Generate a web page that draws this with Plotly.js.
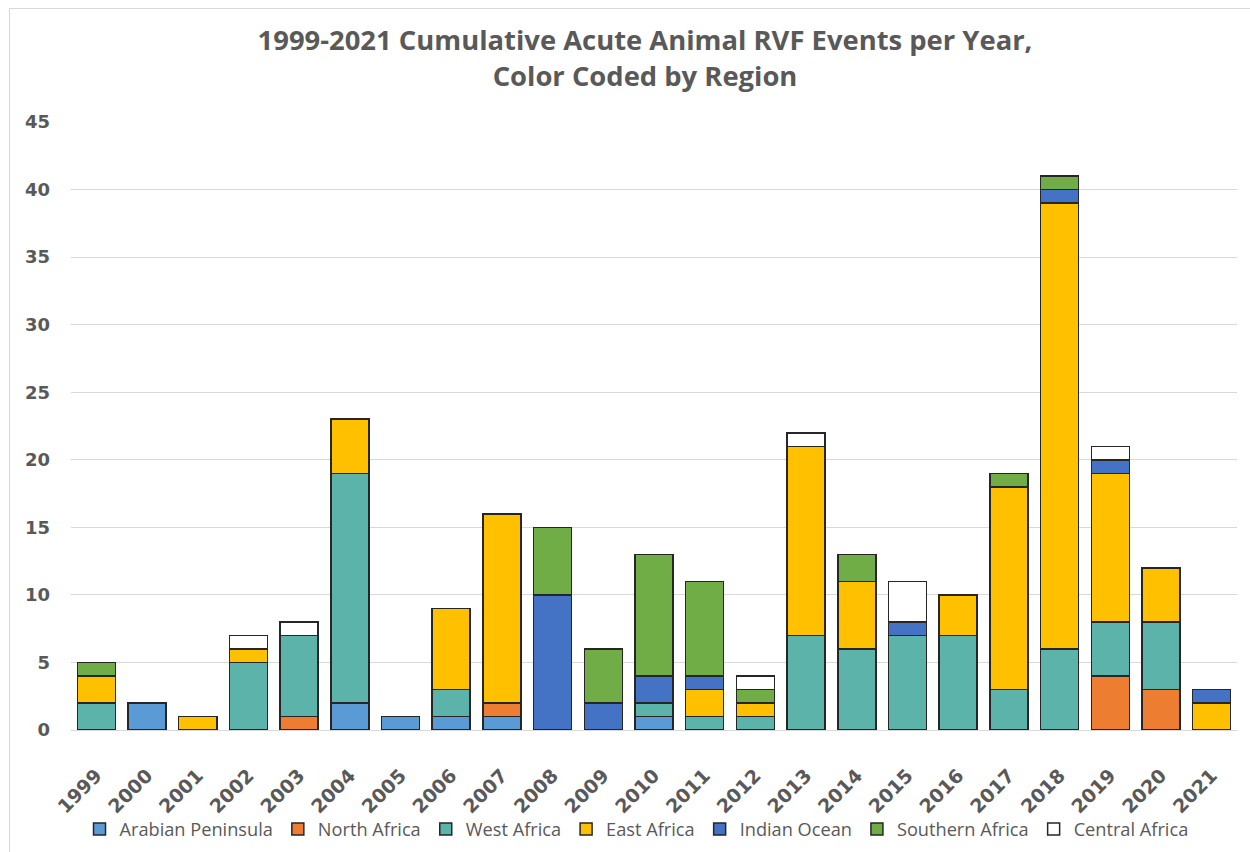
<!DOCTYPE html>
<html>
<head>
<meta charset="utf-8">
<script src="https://cdn.plot.ly/plotly-3.0.1.min.js"></script>
<style>
  html, body { margin: 0; padding: 0; background: #fff; }
  #wrap { position: relative; width: 1250px; height: 852px; overflow: hidden; }
  #frame { position: absolute; left: 9px; top: 8px; width: 1300px; height: 900px;
           border-top: 1px solid #d9d9d9; border-left: 1px solid #d9d9d9; pointer-events: none; }
  #chart { position: absolute; left: 0; top: 0; width: 1250px; height: 852px; }
</style>
</head>
<body>
<div id="wrap">
  <div id="chart"></div>
  <div id="frame"></div>
</div>
<script>
const years = ['1999','2000','2001','2002','2003','2004','2005','2006','2007','2008','2009','2010',
               '2011','2012','2013','2014','2015','2016','2017','2018','2019','2020','2021'];

const arabianPeninsula = [0,2,0,0,0,2,1,1,1,0,0,1,0,0,0,0,0,0,0,0,0,0,0];
const northAfrica      = [0,0,0,0,1,0,0,0,1,0,0,0,0,0,0,0,0,0,0,0,4,3,0];
const westAfrica       = [2,0,0,5,6,17,0,2,0,0,0,1,1,1,7,6,7,7,3,6,4,5,0];
const eastAfrica       = [2,0,1,1,0,4,0,6,14,0,0,0,2,1,14,5,0,3,15,33,11,4,2];
const indianOcean      = [0,0,0,0,0,0,0,0,0,10,2,2,1,0,0,0,1,0,0,1,1,0,1];
const southernAfrica   = [1,0,0,0,0,0,0,0,0,5,4,9,7,1,0,2,0,0,1,1,0,0,0];
const centralAfrica    = [0,0,0,1,1,0,0,0,0,0,0,0,0,1,1,0,3,0,0,0,1,0,0];

const seriesNames = ['Arabian Peninsula','North Africa','West Africa','East Africa',
                     'Indian Ocean','Southern Africa','Central Africa'];
const seriesValues = [arabianPeninsula, northAfrica, westAfrica, eastAfrica,
                      indianOcean, southernAfrica, centralAfrica];
const seriesColors = ['#5B9BD5','#ED7D31','#5BB3A9','#FFC000','#4472C4','#70AD47','#FFFFFF'];

const traces = seriesNames.map((name, i) => ({
  type: 'bar',
  name: name,
  x: years,
  y: seriesValues[i].map(v => v === 0 ? null : v),
  marker: { color: seriesColors[i], line: { color: '#262626', width: 1.5 } },
  hoverinfo: 'x+y+name'
}));

const txtFont = '"Open Sans", "DejaVu Sans", sans-serif';
const tickFam = '"DejaVu Sans", Verdana, sans-serif';

const layout = {
  width: 1250, height: 852,
  margin: { l: 71, r: 13, t: 122, b: 122, autoexpand: false },
  paper_bgcolor: 'rgba(0,0,0,0)',
  plot_bgcolor: 'rgba(0,0,0,0)',
  barmode: 'stack',
  bargap: 0.25,
  title: {
    text: '<b>1999-2021 Cumulative Acute Animal RVF Events per Year,</b><br><b>Color Coded by Region</b>',
    font: { family: txtFont, size: 27.4, color: '#595959' },
    x: 0.516, xanchor: 'center', xref: 'container',
    y: 0.941, yanchor: 'middle', yref: 'container'
  },
  xaxis: {
    type: 'category',
    automargin: false,
    tickangle: -45,
    tickfont: { family: tickFam, size: 19, color: '#595959', weight: 'bold' },
    showgrid: false,
    showline: true, linecolor: '#d9d9d9', linewidth: 1,
    ticks: '',
    ticklabelstandoff: 26
  },
  yaxis: {
    automargin: false,
    range: [0, 45],
    dtick: 5,
    tickfont: { family: tickFam, size: 18, color: '#595959', weight: 'bold' },
    showgrid: true, gridcolor: '#d9d9d9', gridwidth: 1,
    zeroline: false,
    showline: false,
    ticks: '',
    ticklabelstandoff: 20
  },
  legend: {
    orientation: 'h',
    x: 0.485, xanchor: 'center',
    y: -0.163, yanchor: 'middle',
    font: { family: txtFont, size: 18.2, color: '#595959' },
    traceorder: 'normal',
    itemwidth: 30
  },
  showlegend: true
};

Plotly.newPlot('chart', traces, layout, { displayModeBar: false, staticPlot: true });
</script>
</body>
</html>
